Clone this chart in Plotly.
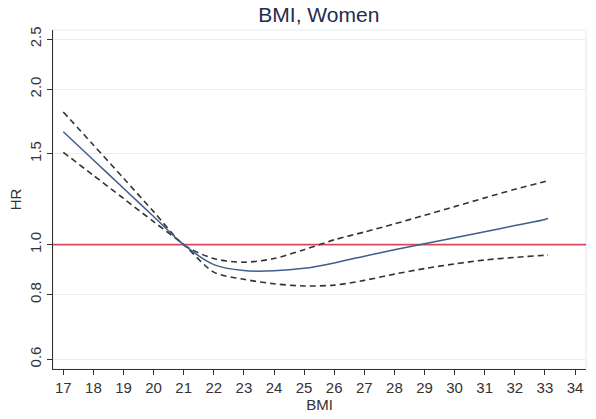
import plotly.graph_objects as go

# BMI grid and spline estimates of the hazard ratio with 95% CI (women)
bmi = [17, 18, 19, 20, 21, 22, 23, 24, 25, 26, 27, 28, 29, 30, 31, 32, 33, 33.1]
hr = [1.655, 1.459, 1.286, 1.134, 1.0, 0.915, 0.891, 0.890, 0.900, 0.922,
      0.950, 0.978, 1.004, 1.031, 1.059, 1.089, 1.119, 1.125]
hr_upper = [1.807, 1.56, 1.345, 1.159, 1.0, 0.940, 0.925, 0.940, 0.978, 1.022,
            1.058, 1.097, 1.140, 1.185, 1.232, 1.280, 1.325, 1.33]
hr_lower = [1.51, 1.362, 1.229, 1.108, 1.0, 0.885, 0.857, 0.840, 0.832, 0.835,
            0.853, 0.877, 0.899, 0.918, 0.934, 0.945, 0.954, 0.955]

x_ticks = list(range(17, 35))
x_range = [16.658, 34.365]
y_ticks = [0.6, 0.8, 1.0, 1.5, 2.0, 2.5]
y_ticklabels = ["0.6", "0.8", "1.0", "1.5", "2.0", "2.5"]
reference_hr = 1.0

dash_color = "#333333"
fig = go.Figure()
# reference line HR = 1 across the whole plot region
fig.add_trace(go.Scatter(x=x_range, y=[reference_hr, reference_hr], mode="lines",
                         line=dict(color="#d9475c", width=1.8), showlegend=False,
                         hoverinfo="skip"))
fig.add_trace(go.Scatter(x=bmi, y=hr_upper, mode="lines",
                         line=dict(color=dash_color, width=1.6, dash="6px,4px", shape="spline", smoothing=0.8),
                         showlegend=False))
fig.add_trace(go.Scatter(x=bmi, y=hr_lower, mode="lines",
                         line=dict(color=dash_color, width=1.6, dash="6px,4px", shape="spline", smoothing=0.8),
                         showlegend=False))
fig.add_trace(go.Scatter(x=bmi, y=hr, mode="lines",
                         line=dict(color="#3e5f8c", width=1.5, shape="spline", smoothing=0.8),
                         showlegend=False))

# light plot-region frame
fig.add_shape(type="rect", xref="paper", yref="paper", x0=0, x1=1, y0=0, y1=1,
              line=dict(color="#e6edf1", width=1.2), layer="below")

axis_font = dict(family="Liberation Sans, Arial, sans-serif", size=15, color="#333333")
fig.update_layout(
    width=596, height=419,
    margin=dict(l=53, r=10, t=30, b=50),
    paper_bgcolor="white", plot_bgcolor="white",
    title=dict(text="BMI, Women", x=0.535, xanchor="center", y=0.965, yanchor="middle",
               font=dict(family="Liberation Sans, Arial, sans-serif", size=21, color="#1f2d4d")),
    xaxis=dict(range=x_range, tickvals=x_ticks, ticks="outside", ticklen=5,
               tickcolor="#333333", tickwidth=1.2, showline=True, linecolor="#333333",
               linewidth=1.3, showgrid=False, zeroline=False, tickfont=axis_font,
               title=dict(text="BMI", font=axis_font, standoff=0)),
    yaxis=dict(type="log", range=[-0.2407, 0.4157], tickvals=y_ticks, ticktext=y_ticklabels,
               tickangle=-90, ticks="outside", ticklen=5, tickcolor="#333333", tickwidth=1.2,
               showline=True, linecolor="#333333", linewidth=1.3,
               showgrid=True, gridcolor="#e6edf1", gridwidth=1, zeroline=False,
               tickfont=axis_font, title=dict(text="HR", font=axis_font, standoff=1)),
)

fig.write_html("out.html")
